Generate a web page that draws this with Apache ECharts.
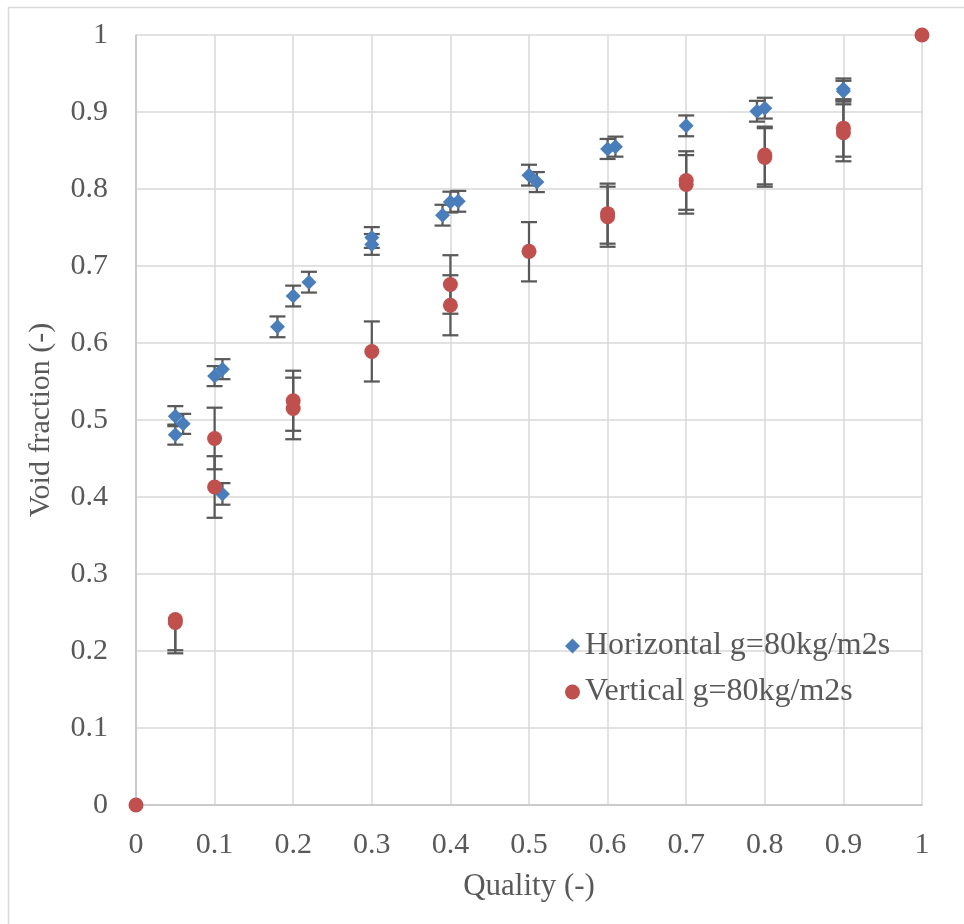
<!DOCTYPE html>
<html>
<head>
<meta charset="utf-8">
<title>Void fraction vs quality</title>
<script src="https://cdn.jsdelivr.net/npm/echarts@6/dist/echarts.min.js"></script>
<style>
  html, body { margin: 0; padding: 0; background: #ffffff; }
  #chart { width: 964px; height: 924px; }
</style>
</head>
<body>
<div id="chart"></div>
<script>
// Axis tick labels (0 to 1 in steps of 0.1)
const tickLabels = ['0', '0.1', '0.2', '0.3', '0.4', '0.5', '0.6', '0.7', '0.8', '0.9', '1'];

// Horizontal flow, G = 80 kg/m2s
const horizQuality = [0.05, 0.05, 0.06, 0.10, 0.11, 0.11, 0.18, 0.20, 0.22, 0.30, 0.30, 0.39, 0.40, 0.41, 0.50, 0.51, 0.60, 0.61, 0.70, 0.79, 0.80, 0.90, 0.90];
const horizVoid    = [0.505, 0.481, 0.495, 0.557, 0.566, 0.404, 0.621, 0.661, 0.679, 0.737, 0.728, 0.766, 0.783, 0.784, 0.818, 0.809, 0.852, 0.855, 0.882, 0.901, 0.905, 0.930, 0.927];
const horizErr     = [0.013, 0.013, 0.013, 0.013, 0.013, 0.014, 0.0135, 0.0135, 0.0135, 0.0135, 0.0135, 0.0135, 0.0135, 0.0135, 0.0135, 0.013, 0.013, 0.013, 0.0135, 0.0135, 0.0135, 0.0135, 0.0135];

// Vertical flow, G = 80 kg/m2s
const vertQuality = [0, 0.05, 0.05, 0.10, 0.10, 0.20, 0.20, 0.30, 0.40, 0.40, 0.50, 0.60, 0.60, 0.70, 0.70, 0.80, 0.80, 0.90, 0.90, 1];
const vertVoid    = [0, 0.241, 0.237, 0.476, 0.413, 0.525, 0.515, 0.589, 0.676, 0.649, 0.719, 0.768, 0.764, 0.811, 0.806, 0.844, 0.841, 0.879, 0.873, 1];
const vertErrUp   = [0, 0, 0, 0.040, 0.040, 0.039, 0.040, 0.039, 0.038, 0.039, 0.038, 0.039, 0.039, 0.038, 0.038, 0.037, 0.038, 0.037, 0.037, 0];
const vertErrDown = [0, 0.040, 0.040, 0.040, 0.040, 0.039, 0.040, 0.039, 0.038, 0.039, 0.039, 0.039, 0.039, 0.038, 0.038, 0.038, 0.038, 0.037, 0.037, 0];

const seriesNames = ['Horizontal g=80kg/m2s', 'Vertical g=80kg/m2s'];

const FONT = 'Liberation Serif, Times New Roman, serif';
const TEXT = '#595959';

// [x, low, high, y] rows for the error bar renderer
const horizBars = horizQuality.map((x, i) => [x, horizVoid[i] - horizErr[i], horizVoid[i] + horizErr[i], horizVoid[i]]);
const vertBars = vertQuality.map((x, i) => [x, vertVoid[i] - vertErrDown[i], vertVoid[i] + vertErrUp[i], vertVoid[i]]);
const allBars = horizBars.concat(vertBars).filter(r => r[2] - r[1] > 0);

function renderErrorBar(params, api) {
  const x = api.value(0), lo = api.value(1), hi = api.value(2), y = api.value(3);
  const top = api.coord([x, hi]);
  const bot = api.coord([x, lo]);
  const half = 8;
  const style = { stroke: '#595959', lineWidth: 2.25, fill: null };
  const children = [{
    type: 'line', shape: { x1: top[0], y1: top[1], x2: bot[0], y2: bot[1] }, style: style
  }];
  if (hi > y) children.push({ type: 'line', shape: { x1: top[0] - half, y1: top[1], x2: top[0] + half, y2: top[1] }, style: style });
  if (lo < y) children.push({ type: 'line', shape: { x1: bot[0] - half, y1: bot[1], x2: bot[0] + half, y2: bot[1] }, style: style });
  return { type: 'group', children: children };
}

const labelFmt = v => tickLabels[Math.round(v * 10)] || '';

const axisCommon = {
  type: 'value', min: 0, max: 1, interval: 0.1,
  nameLocation: 'middle',
  nameTextStyle: { fontFamily: FONT, fontSize: 31, color: TEXT },
  axisLine: { show: true, lineStyle: { color: '#c4c4c4', width: 1.5 } },
  axisTick: { show: false },
  splitLine: { show: true, lineStyle: { color: '#d9d9d9', width: 1.5 } },
  axisLabel: { fontFamily: FONT, fontSize: 30, color: TEXT, formatter: labelFmt }
};

const chart = echarts.init(document.getElementById('chart'), null, { renderer: 'canvas' });
chart.setOption({
  backgroundColor: '#ffffff',
  animation: false,
  graphic: [{
    type: 'rect', left: 6, top: 5, z: -10, silent: true,
    shape: { width: 1000, height: 1000 },
    style: { fill: null, stroke: '#d9d9d9', lineWidth: 1.5 }
  }],
  grid: { left: 136, top: 35, width: 786, height: 770, containLabel: false },
  xAxis: Object.assign({}, axisCommon, {
    name: 'Quality (-)', nameGap: 66,
    axisLabel: Object.assign({}, axisCommon.axisLabel, { margin: 25 })
  }),
  yAxis: Object.assign({}, axisCommon, {
    name: 'Void fraction (-)', nameGap: 80,
    nameTextStyle: { fontFamily: FONT, fontSize: 30, color: TEXT },
    axisLabel: Object.assign({}, axisCommon.axisLabel, { margin: 28 })
  }),
  legend: {
    orient: 'vertical', left: 560, top: 625, itemGap: 14,
    itemWidth: 15, itemHeight: 15,
    textStyle: { fontFamily: FONT, fontSize: 32, color: TEXT },
    data: seriesNames
  },
  series: [
    {
      type: 'custom', name: 'error bars', renderItem: renderErrorBar,
      data: allBars, z: 1, silent: true,
      encode: { x: 0, y: [1, 2] }
    },
    {
      type: 'scatter', name: seriesNames[0], symbol: 'diamond', symbolSize: 15,
      itemStyle: { color: '#4a7ebb', opacity: 1 }, z: 2,
      data: horizQuality.map((x, i) => [x, horizVoid[i]])
    },
    {
      type: 'scatter', name: seriesNames[1], symbol: 'circle', symbolSize: 15,
      itemStyle: { color: '#c0504d', opacity: 1 }, z: 3,
      data: vertQuality.map((x, i) => [x, vertVoid[i]])
    }
  ]
});
</script>
</body>
</html>
